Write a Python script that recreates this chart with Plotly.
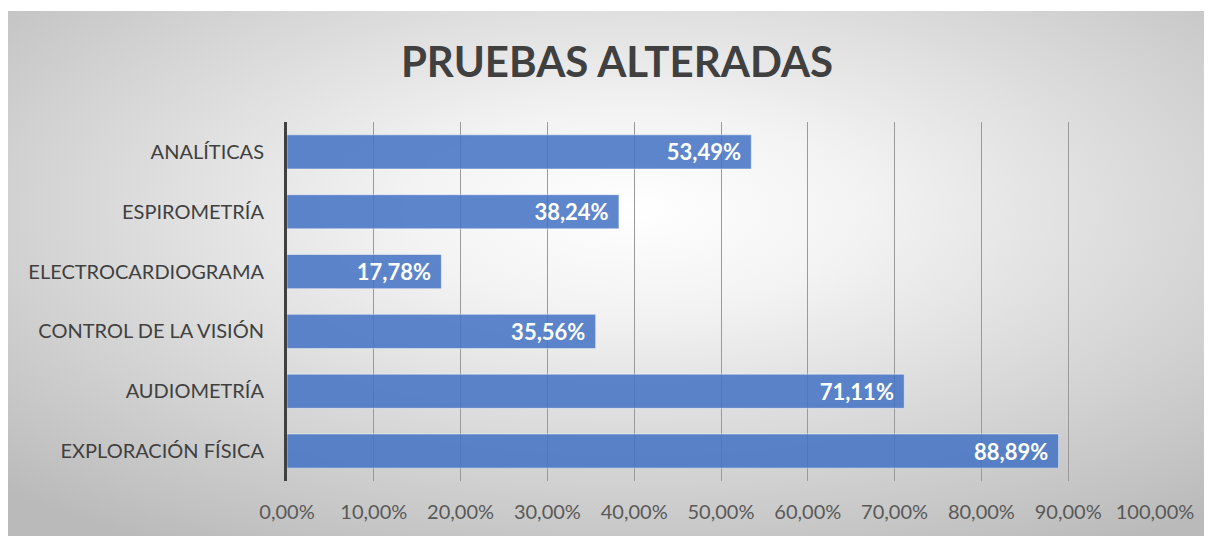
import base64
import plotly.graph_objects as go

# Datos (de arriba a abajo en el gráfico)
categorias = [
    "ANALÍTICAS",
    "ESPIROMETRÍA",
    "ELECTROCARDIOGRAMA",
    "CONTROL DE LA VISIÓN",
    "AUDIOMETRÍA",
    "EXPLORACIÓN FÍSICA",
]
porcentajes = [0.5349, 0.3824, 0.1778, 0.3556, 0.7111, 0.8889]
ticks_x = [0.0, 0.1, 0.2, 0.3, 0.4, 0.5, 0.6, 0.7, 0.8, 0.9, 1.0]

# the page body adds 8px on top/left, so the figure is 8px smaller
W, H = 1204, 528
L, R, T, B = 279, 57, 114, 55
TXT = "#404040"
FONT = "Lato"

# radial gradient background (Excel style), as inline svg
svg = (
    '<svg xmlns="http://www.w3.org/2000/svg" width="1204" height="525" '
    'preserveAspectRatio="none" viewBox="0 0 1204 525">'
    '<defs><radialGradient id="g" cx="0.52" cy="0.38" r="0.75">'
    '<stop offset="0" stop-color="#ffffff"/>'
    '<stop offset="0.25" stop-color="#f3f3f3"/>'
    '<stop offset="1" stop-color="#bababa"/>'
    '</radialGradient></defs>'
    '<rect width="1204" height="525" fill="url(#g)"/></svg>'
)
bg_src = "data:image/svg+xml;base64," + base64.b64encode(svg.encode()).decode()

pw = W - L - R
ph = H - T - B
x0 = (0 - L) / pw
x1 = (W - L) / pw
ytop = (H - B - 3) / ph
ybot = (H - B - H) / ph

fig = go.Figure()
fig.add_trace(go.Bar(
    y=categorias,
    x=porcentajes,
    orientation="h",
    width=0.57,
    marker=dict(color="rgba(68,114,196,0.86)",
                line=dict(color="rgba(255,255,255,0.45)", width=1)),
    texttemplate="%{x:.2%}\u2004",
    textposition="inside",
    insidetextanchor="end",
    textfont=dict(family=FONT, size=22, color="white", weight="bold"),
    cliponaxis=False,
    hoverinfo="skip",
))

fig.update_layout(
    width=W, height=H,
    margin=dict(l=L, r=R, t=T, b=B),
    paper_bgcolor="white",
    plot_bgcolor="rgba(0,0,0,0)",
    separators=",.",
    showlegend=False,
    font=dict(family=FONT, color=TXT),
    title=dict(text="<b>PRUEBAS ALTERADAS</b>", x=609 / W, xanchor="center",
               y=1 - 54 / H, yanchor="middle",
               font=dict(family=FONT, size=42, color=TXT)),
    images=[dict(source=bg_src, xref="paper", yref="paper",
                 x=x0, y=ytop, sizex=x1 - x0, sizey=ytop - ybot,
                 xanchor="left", yanchor="top", sizing="stretch",
                 layer="below")],
)

fig.update_xaxes(
    range=[0, 1], tickvals=ticks_x, tickformat=".2%",
    showgrid=True, gridcolor="#9a9a9a", gridwidth=1,
    zeroline=False, showline=False,
    tickfont=dict(family=FONT, size=20, color="#595959"),
    ticklabelstandoff=17,
)
fig.update_yaxes(
    categoryorder="array", categoryarray=categorias, autorange="reversed",
    showline=True, linecolor="#404040", linewidth=3,
    showgrid=False, zeroline=False,
    tickfont=dict(family=FONT, size=20, color=TXT),
    ticklabelstandoff=16,
)

fig.write_html("out.html")
